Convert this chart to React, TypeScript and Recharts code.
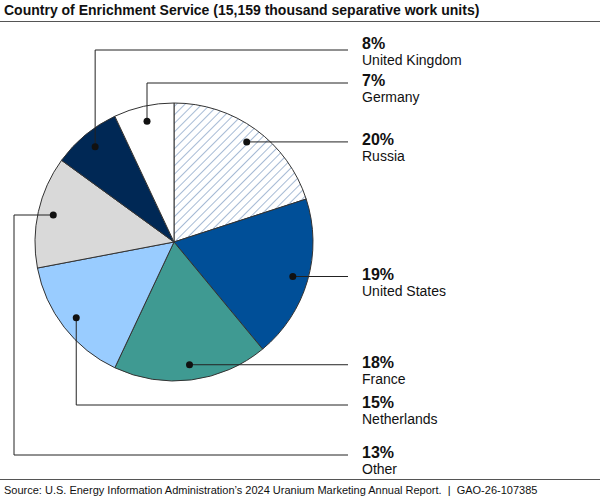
import React from "react";
import { PieChart, Pie, Cell } from "recharts";

const countries = ["Russia", "United States", "France", "Netherlands", "Other", "United Kingdom", "Germany"];
const shares = [20, 19, 18, 15, 13, 8, 7];
const colors = ["url(#hatch)", "#004f98", "#3f9a92", "#99ccff", "#d9d9d9", "#002855", "#ffffff"];
const labelY = [145, 268, 364, 405, 455, 50, 83];

const data = countries.map((name, i) => ({ name, value: shares[i] }));

const LINE_END = 348;
const TEXT_X = 362;

const renderLabel = (p: any) => {
  const { cx, cy, midAngle, outerRadius, index } = p;
  const RAD = Math.PI / 180;
  const r = outerRadius * 0.89;
  const dx = cx + r * Math.cos(-midAngle * RAD);
  const dy = cy + r * Math.sin(-midAngle * RAD);
  const ty = labelY[index];
  let pts = "";
  if (index === 4) {
    pts = `${dx},${dy} 14,${dy} 14,${ty} ${LINE_END},${ty}`;
  } else if (index >= 3) {
    pts = `${dx},${dy} ${dx},${ty} ${LINE_END},${ty}`;
  } else {
    pts = `${dx},${dy} ${LINE_END},${dy}`;
  }
  const base = index <= 2 ? dy : ty;
  const off = index === 5 ? -1 : 3;
  return (
    <g key={index}>
      <polyline points={pts} fill="none" stroke="#222" strokeWidth={1} />
      <circle cx={dx} cy={dy} r={3.5} fill="#111" />
      <text x={TEXT_X} y={base + off} fontSize={16} fontWeight="bold" fill="#111" fontFamily="Liberation Sans, Arial">
        {shares[index]}%
      </text>
      <text x={TEXT_X} y={base + off + 16} fontSize={14} fill="#111" fontFamily="Liberation Sans, Arial">
        {countries[index]}
      </text>
    </g>
  );
};

export default function App() {
  return (
    <div style={{ position: "fixed", left: 0, top: 0, width: 600, height: 500, background: "#fff", fontFamily: "Liberation Sans, Arial" }}>
      <div style={{ position: "absolute", left: 4, top: 2, fontSize: 14, fontWeight: "bold", color: "#111" }}>
        Country of Enrichment Service (15,159 thousand separative work units)
      </div>
      <div style={{ position: "absolute", left: 0, top: 21, width: 600, height: 1, background: "#555" }} />
      <div style={{ position: "absolute", left: 0, top: 479, width: 600, height: 1, background: "#555" }} />
      <div style={{ position: "absolute", left: 4, top: 484, fontSize: 11, color: "#111", whiteSpace: "pre" }}>
        Source: U.S. Energy Information Administration’s 2024 Uranium Marketing Annual Report.  |  GAO-26-107385
      </div>
      <div style={{ position: "absolute", left: 0, top: 0 }}>
        <PieChart width={600} height={478}>
          <defs>
            <pattern id="hatch" patternUnits="userSpaceOnUse" width={6} height={6} patternTransform="rotate(45)">
              <rect width={6} height={6} fill="#fff" />
              <line x1={0} y1={0} x2={0} y2={6} stroke="#8aa4c8" strokeWidth={1.5} />
            </pattern>
          </defs>
          <Pie
            data={data}
            dataKey="value"
            cx={169}
            cy={237}
            outerRadius={139}
            startAngle={90}
            endAngle={-270}
            stroke="#333"
            strokeWidth={1}
            labelLine={false}
            label={renderLabel}
            isAnimationActive={false}
          >
            {data.map((d, i) => (
              <Cell key={d.name} fill={colors[i]} />
            ))}
          </Pie>
        </PieChart>
      </div>
    </div>
  );
}
